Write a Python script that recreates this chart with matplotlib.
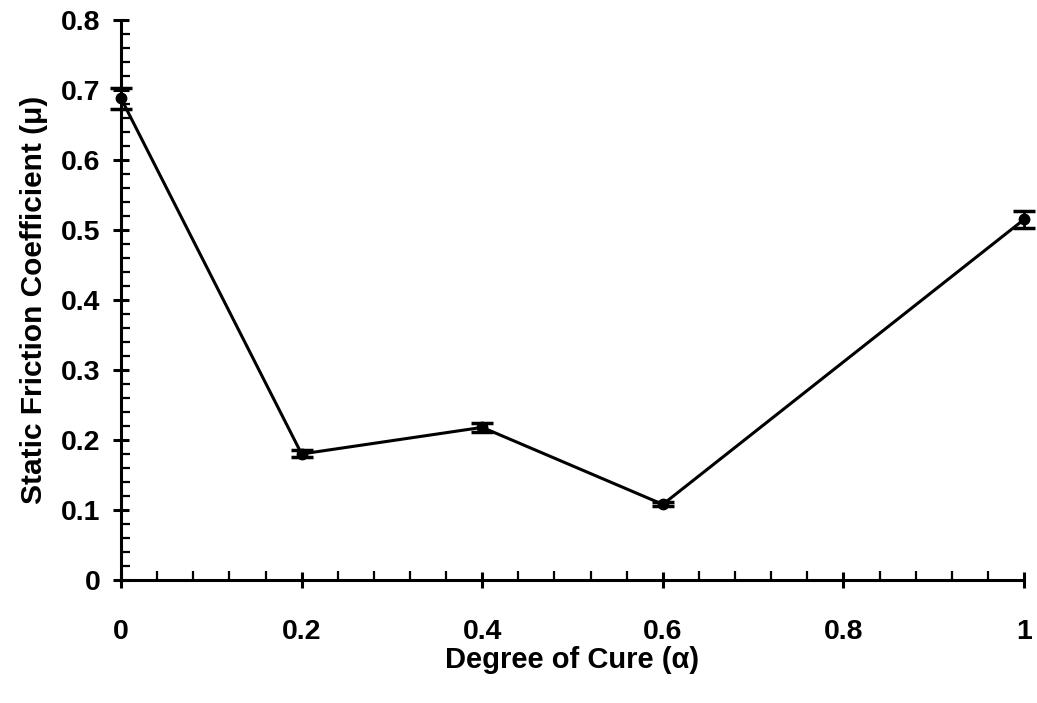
import matplotlib
matplotlib.use("Agg")
import matplotlib.pyplot as plt
from matplotlib.ticker import MultipleLocator

plt.rcParams['font.family'] = ['Liberation Sans', 'DejaVu Sans']
plt.rcParams['font.weight'] = 'bold'

cure = [0.0, 0.2, 0.4, 0.6, 1.0]
mu = [0.688, 0.180, 0.218, 0.108, 0.515]
mu_err = [0.015, 0.005, 0.006, 0.003, 0.012]

fig = plt.figure(figsize=(10.37, 7.03), dpi=100)
ax = fig.add_axes([0.1167, 0.175, 0.8708, 0.7966])

ax.errorbar(cure, mu, yerr=mu_err, color='black', lw=2.2, marker='o', ms=7.5,
            capsize=8, capthick=2.5, elinewidth=2, clip_on=False, zorder=3)

ax.set_xlim(0, 1.0)
ax.set_ylim(0, 0.8)
ax.set_xticks([0, 0.2, 0.4, 0.6, 0.8, 1.0])
ax.set_xticklabels(['0', '0.2', '0.4', '0.6', '0.8', '1'])
ax.set_yticks([0, 0.1, 0.2, 0.3, 0.4, 0.5, 0.6, 0.7, 0.8])
ax.set_yticklabels(['0', '0.1', '0.2', '0.3', '0.4', '0.5', '0.6', '0.7', '0.8'])
ax.xaxis.set_minor_locator(MultipleLocator(0.04))
ax.yaxis.set_minor_locator(MultipleLocator(0.02))

for s in ['top', 'right']:
    ax.spines[s].set_visible(False)
for s in ['left', 'bottom']:
    ax.spines[s].set_linewidth(2.2)

ax.tick_params(which='major', direction='inout', length=12, width=2.2, labelsize=20.5)
ax.tick_params(which='minor', direction='in', length=6.5, width=1.6)
ax.tick_params(axis='x', which='major', pad=22)
ax.tick_params(axis='y', which='major', pad=9)

ax.set_xlabel('Degree of Cure (α)', fontsize=21, fontweight='bold', labelpad=1)
ax.set_ylabel('Static Friction Coefficient (μ)', fontsize=21.5, fontweight='bold', labelpad=9)

fig.savefig('out.png', dpi=100)
